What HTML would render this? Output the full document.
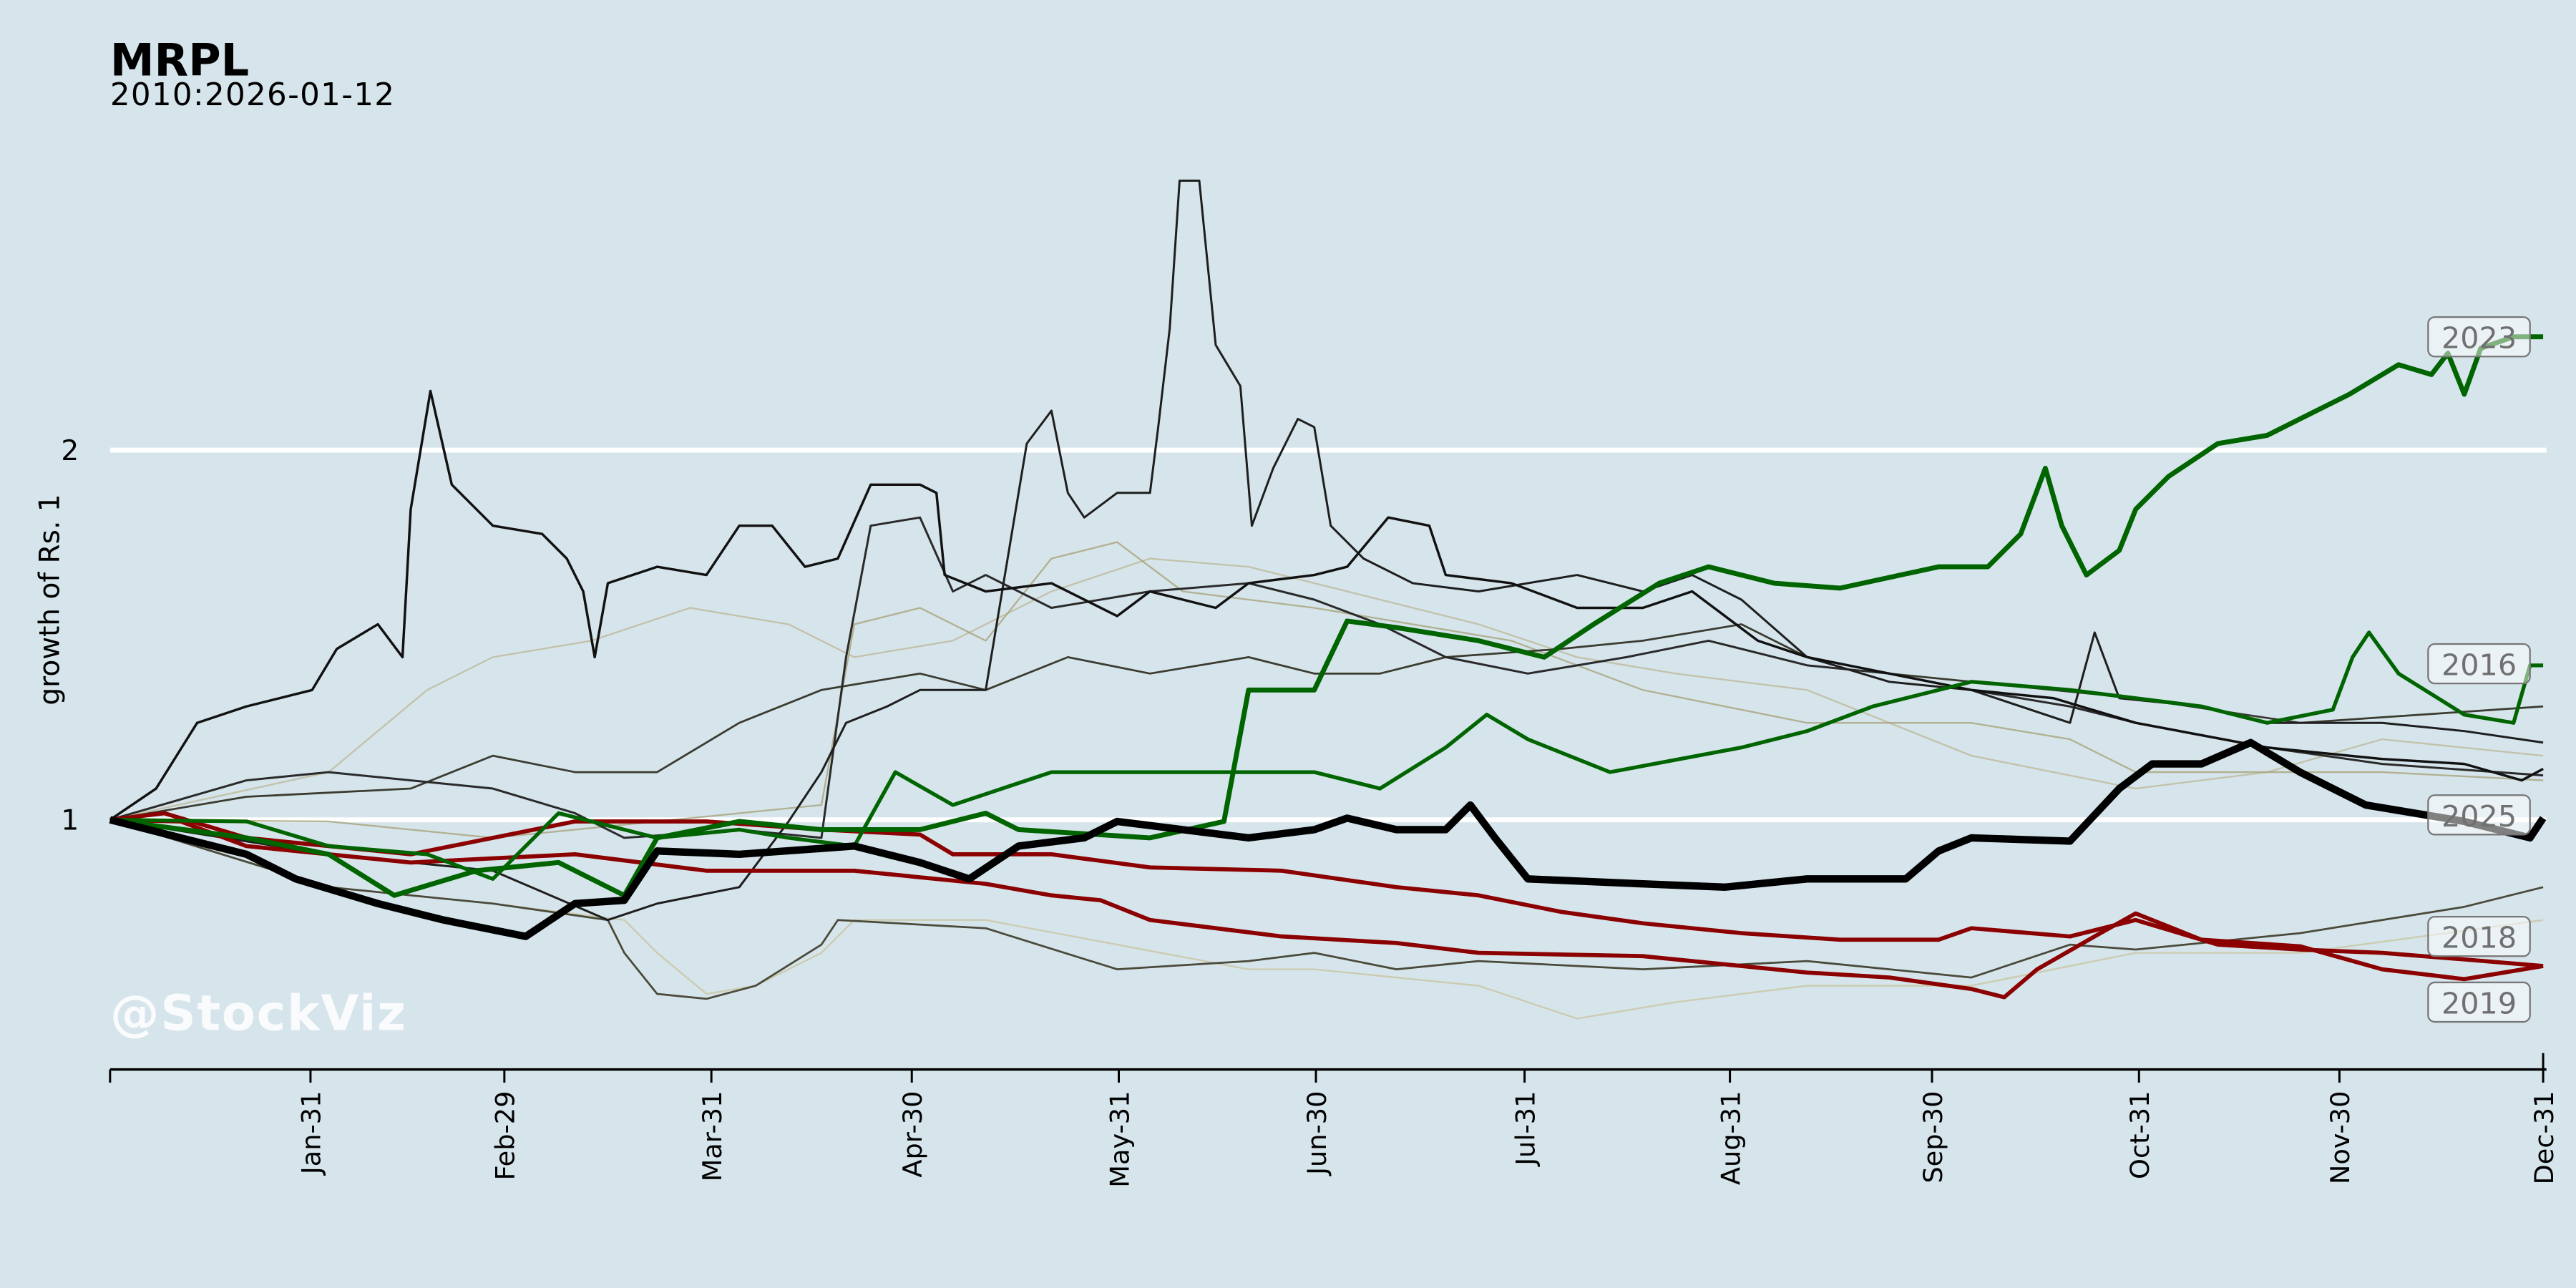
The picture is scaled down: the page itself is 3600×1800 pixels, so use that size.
<!DOCTYPE html>
<html><head><meta charset="utf-8"><style>
html,body{margin:0;padding:0;background:#d6e4eb;}
svg{display:block;}
text{font-family:"DejaVu Sans","Liberation Sans",sans-serif;}
</style></head><body>
<svg width="3600" height="1800" viewBox="0 0 1568 784" xmlns="http://www.w3.org/2000/svg">
<rect width="1568" height="784" fill="#d6e4eb"/>
<text x="67" y="46" font-size="27" font-weight="bold" fill="#000">MRPL</text>
<text x="67" y="64" font-size="19" fill="#000" textLength="173">2010:2026-01-12</text>
<line x1="67" y1="274" x2="1550" y2="274" stroke="#fff" stroke-width="3"/>
<line x1="67" y1="499" x2="1550" y2="499" stroke="#fff" stroke-width="3"/>
<text x="48" y="280" font-size="17" text-anchor="end">2</text>
<text x="48" y="505" font-size="17" text-anchor="end">1</text>
<text transform="translate(36,365) rotate(-90)" font-size="17" text-anchor="middle">growth of Rs. 1</text>
<g fill="none" stroke-linejoin="round">
<polyline stroke="#b9b48e" stroke-opacity="0.7" stroke-width="1" points="67,499 200,470 260,420 300,400 360,390 420,370 480,380 520,400 580,390 640,360 700,340 760,345 820,360 900,380 960,400 1020,410 1100,420 1150,440 1200,460 1250,470 1300,480 1380,470 1450,450 1548,460"/>
<polyline stroke="#c8c4a0" stroke-opacity="0.8" stroke-width="1" points="67,499 200,540 300,550 380,560 400,580 430,605 460,600 500,580 520,560 600,560 680,575 760,590 800,590 900,600 960,620 1020,610 1100,600 1200,600 1300,580 1400,580 1548,560"/>
<polyline stroke="#a8a27a" stroke-opacity="0.8" stroke-width="1" points="67,499 200,500 300,510 400,500 500,490 520,380 560,370 600,390 640,340 680,330 720,360 800,370 860,380 920,390 1000,420 1100,440 1200,440 1260,450 1300,470 1380,470 1450,470 1548,475"/>
<polyline stroke="#3b3b30" stroke-width="1.2" points="67,499 150,485 250,480 300,460 350,470 400,470 450,440 500,420 560,410 600,420 650,400 700,410 760,400 800,410 840,410 880,400 950,395 1000,390 1060,380 1100,400 1150,410 1200,415 1300,425 1400,440 1548,430"/>
<polyline stroke="#4a4a3a" stroke-width="1.2" points="67,499 200,540 300,550 370,560 380,580 400,605 430,608 460,600 500,575 510,560 600,565 680,590 760,585 800,580 850,590 900,585 1000,590 1100,585 1200,595 1260,575 1300,578 1400,568 1500,552 1548,540"/>
<polyline stroke="#2a2a2a" stroke-width="1.3" points="67,499 150,475 200,470 300,480 350,495 380,510 450,505 500,510 515,400 530,320 560,315 580,360 600,350 640,370 700,360 760,355 800,365 840,380 880,400 930,410 990,400 1040,390 1100,405 1150,410 1200,420 1260,430 1300,440 1380,455 1450,465 1548,472"/>
<polyline stroke="#1e1e1e" stroke-width="1.3" points="67,499 200,520 300,530 370,560 400,550 450,540 480,500 500,470 515,440 540,430 560,420 600,420 615,330 625,270 640,250 650,300 660,315 680,300 700,300 705,260 712,200 718,110 730,110 740,210 755,235 762,320 775,285 790,255 800,260 810,320 830,340 860,355 900,360 960,350 1000,360 1030,350 1060,365 1100,400 1150,415 1200,420 1260,440 1275,385 1290,425 1340,430 1380,440 1450,440 1500,445 1548,452"/>
<polyline stroke="#111" stroke-width="1.5" points="67,499 95,480 120,440 150,430 190,420 205,395 230,380 245,400 250,310 262,238 275,295 300,320 330,325 345,340 355,360 362,400 370,355 400,345 430,350 450,320 470,320 490,345 510,340 530,295 560,295 570,300 575,350 600,360 640,355 680,375 700,360 740,370 760,355 800,350 820,345 845,315 870,320 880,350 920,355 960,370 1000,370 1030,360 1070,390 1100,400 1150,410 1200,420 1250,425 1300,440 1380,455 1450,462 1500,465 1535,475 1548,468"/>
<polyline stroke="#8b0000" stroke-width="2.5" points="67,499 100,495 150,510 200,515 250,520 300,510 350,500 430,500 500,505 560,508 580,520 640,520 700,528 780,530 850,540 900,545 950,555 1000,562 1060,568 1120,572 1180,572 1200,565 1260,570 1300,560 1350,575 1400,578 1450,580 1500,584 1548,588"/>
<polyline stroke="#8b0000" stroke-width="2.5" points="67,499 110,500 150,515 200,520 250,525 350,520 430,530 520,530 600,538 640,545 670,548 700,560 780,570 850,574 900,580 1000,582 1060,588 1100,592 1150,595 1200,602 1220,607 1240,590 1275,570 1300,556 1340,572 1400,576 1450,590 1500,596 1548,588"/>
<polyline stroke="#006400" stroke-width="2.3" points="67,499 150,500 200,515 260,520 300,535 340,495 360,500 400,510 450,505 480,510 520,515 545,470 580,490 640,470 700,470 750,470 800,470 840,480 880,455 905,435 930,450 980,470 1060,455 1100,445 1140,430 1200,415 1260,420 1300,425 1340,430 1380,440 1420,432 1432,400 1442,385 1460,410 1500,435 1530,440 1540,405 1548,405"/>
<polyline stroke="#006400" stroke-width="3" points="67,499 150,510 200,520 240,545 290,530 340,525 380,545 400,510 450,500 500,505 560,505 600,495 620,505 700,510 745,500 760,420 800,420 820,378 850,382 900,390 940,400 970,380 1010,355 1040,345 1080,355 1120,358 1180,345 1210,345 1230,325 1245,285 1255,320 1270,350 1290,335 1300,310 1320,290 1350,270 1380,265 1400,255 1430,240 1460,222 1480,228 1490,215 1500,240 1510,212 1530,205 1548,205"/>
<polyline stroke="#000" stroke-width="4.5" points="67,499 110,510 150,520 180,535 230,550 270,560 320,570 350,550 380,548 400,518 450,520 520,515 560,525 590,535 620,515 660,510 680,500 720,505 760,510 800,505 820,498 850,505 880,505 895,490 910,510 930,535 1000,538 1050,540 1100,535 1160,535 1180,518 1200,510 1260,512 1290,480 1310,465 1340,465 1370,452 1400,470 1440,490 1500,500 1540,510 1548,498"/>
</g>
<line x1="67" y1="651" x2="1550" y2="651" stroke="#000" stroke-width="1.5"/>
<g stroke="#000" stroke-width="1.3">
<line x1="67" y1="651" x2="67" y2="659"/><line x1="189" y1="651" x2="189" y2="659"/><line x1="307" y1="651" x2="307" y2="659"/><line x1="433" y1="651" x2="433" y2="659"/><line x1="555" y1="651" x2="555" y2="659"/><line x1="681" y1="651" x2="681" y2="659"/><line x1="801" y1="651" x2="801" y2="659"/><line x1="928" y1="651" x2="928" y2="659"/><line x1="1053" y1="651" x2="1053" y2="659"/><line x1="1176" y1="651" x2="1176" y2="659"/><line x1="1302" y1="651" x2="1302" y2="659"/><line x1="1424" y1="651" x2="1424" y2="659"/><line x1="1548" y1="641" x2="1548" y2="659"/>
</g>
<g font-size="16" text-anchor="end">
<text transform="translate(195,664) rotate(-90)">Jan-31</text>
<text transform="translate(313,664) rotate(-90)">Feb-29</text>
<text transform="translate(439,664) rotate(-90)">Mar-31</text>
<text transform="translate(561,664) rotate(-90)">Apr-30</text>
<text transform="translate(687,664) rotate(-90)">May-31</text>
<text transform="translate(807,664) rotate(-90)">Jun-30</text>
<text transform="translate(934,664) rotate(-90)">Jul-31</text>
<text transform="translate(1059,664) rotate(-90)">Aug-31</text>
<text transform="translate(1182,664) rotate(-90)">Sep-30</text>
<text transform="translate(1308,664) rotate(-90)">Oct-31</text>
<text transform="translate(1430,664) rotate(-90)">Nov-30</text>
<text transform="translate(1554,664) rotate(-90)">Dec-31</text>
</g>
<g font-size="18" fill="#707070">
<rect x="1478" y="193" width="62" height="24" rx="4" fill="#fff" fill-opacity="0.5" stroke="#777"/>
<text x="1509" y="212" text-anchor="middle">2023</text>
<rect x="1478" y="392" width="62" height="24" rx="4" fill="#fff" fill-opacity="0.5" stroke="#777"/>
<text x="1509" y="411" text-anchor="middle">2016</text>
<rect x="1478" y="484" width="62" height="24" rx="4" fill="#fff" fill-opacity="0.5" stroke="#777"/>
<text x="1509" y="503" text-anchor="middle">2025</text>
<rect x="1478" y="558" width="62" height="24" rx="4" fill="#fff" fill-opacity="0.5" stroke="#777"/>
<text x="1509" y="577" text-anchor="middle">2018</text>
<rect x="1478" y="598" width="62" height="24" rx="4" fill="#fff" fill-opacity="0.5" stroke="#777"/>
<text x="1509" y="617" text-anchor="middle">2019</text>
</g>
<text x="67" y="627" font-size="30" font-weight="bold" fill="#fff" fill-opacity="0.85" textLength="180">@StockViz</text>
</svg>
</body></html>
